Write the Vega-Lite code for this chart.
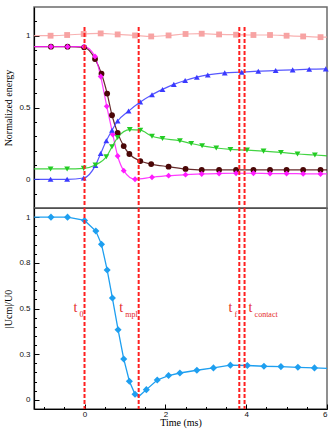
{
  "$schema": "https://vega.github.io/schema/vega-lite/v6.json",
  "autosize": "pad",
  "padding": {"left": 2, "top": 6, "right": 5, "bottom": 2},
  "spacing": 0,
  "bounds": "flush",
  "config": {
    "view": {"stroke": "#6b6b6b", "strokeWidth": 1.5},
    "axis": {
      "domainColor": "#000", "domainWidth": 1.2, "tickColor": "#000", "grid": false,
      "labelFont": "Liberation Sans", "labelFontSize": 8, "labelColor": "#111",
      "titleFont": "Liberation Serif", "titleFontSize": 10, "titleFontWeight": "normal", "titleColor": "#000",
      "tickSize": -5, "labelPadding": 9
    }
  },
  "datasets": {
    "energy": [
      {"s": "Total", "t": -1.25, "v": 1.0, "m": 0},
      {"s": "Total", "t": -0.84, "v": 1.0, "m": 1},
      {"s": "Total", "t": -0.43, "v": 1.005, "m": 1},
      {"s": "Total", "t": -0.02, "v": 1.012, "m": 1},
      {"s": "Total", "t": 0.40, "v": 1.016, "m": 1},
      {"s": "Total", "t": 0.82, "v": 1.009, "m": 1},
      {"s": "Total", "t": 1.25, "v": 1.002, "m": 1},
      {"s": "Total", "t": 1.65, "v": 0.995, "m": 1},
      {"s": "Total", "t": 2.08, "v": 1.002, "m": 1},
      {"s": "Total", "t": 2.50, "v": 1.012, "m": 1},
      {"s": "Total", "t": 2.90, "v": 1.014, "m": 1},
      {"s": "Total", "t": 3.33, "v": 1.009, "m": 1},
      {"s": "Total", "t": 3.75, "v": 1.007, "m": 1},
      {"s": "Total", "t": 4.18, "v": 1.005, "m": 1},
      {"s": "Total", "t": 4.59, "v": 1.005, "m": 1},
      {"s": "Total", "t": 5.00, "v": 1.0, "m": 1},
      {"s": "Total", "t": 5.41, "v": 0.995, "m": 1},
      {"s": "Total", "t": 5.84, "v": 0.99, "m": 1},
      {"s": "Total", "t": 6.0, "v": 0.99, "m": 0},

      {"s": "Kinetic", "t": -1.25, "v": 0.924, "m": 0},
      {"s": "Kinetic", "t": -0.83, "v": 0.924, "m": 1},
      {"s": "Kinetic", "t": -0.42, "v": 0.924, "m": 1},
      {"s": "Kinetic", "t": -0.01, "v": 0.919, "m": 1},
      {"s": "Kinetic", "t": 0.26, "v": 0.838, "m": 1},
      {"s": "Kinetic", "t": 0.42, "v": 0.735, "m": 1},
      {"s": "Kinetic", "t": 0.56, "v": 0.597, "m": 1},
      {"s": "Kinetic", "t": 0.68, "v": 0.446, "m": 1},
      {"s": "Kinetic", "t": 0.82, "v": 0.323, "m": 1},
      {"s": "Kinetic", "t": 0.97, "v": 0.231, "m": 1},
      {"s": "Kinetic", "t": 1.11, "v": 0.176, "m": 1},
      {"s": "Kinetic", "t": 1.38, "v": 0.127, "m": 1},
      {"s": "Kinetic", "t": 1.65, "v": 0.106, "m": 1},
      {"s": "Kinetic", "t": 2.08, "v": 0.088, "m": 1},
      {"s": "Kinetic", "t": 2.50, "v": 0.072, "m": 1},
      {"s": "Kinetic", "t": 2.90, "v": 0.065, "m": 1},
      {"s": "Kinetic", "t": 3.33, "v": 0.065, "m": 1},
      {"s": "Kinetic", "t": 3.75, "v": 0.065, "m": 1},
      {"s": "Kinetic", "t": 4.18, "v": 0.065, "m": 1},
      {"s": "Kinetic", "t": 4.59, "v": 0.065, "m": 1},
      {"s": "Kinetic", "t": 5.00, "v": 0.065, "m": 1},
      {"s": "Kinetic", "t": 5.41, "v": 0.065, "m": 1},
      {"s": "Kinetic", "t": 5.84, "v": 0.065, "m": 1},
      {"s": "Kinetic", "t": 6.0, "v": 0.065, "m": 0},

      {"s": "Kinetic (cm)", "t": -1.25, "v": 0.924, "m": 0},
      {"s": "Kinetic (cm)", "t": -0.83, "v": 0.924, "m": 1},
      {"s": "Kinetic (cm)", "t": -0.42, "v": 0.924, "m": 1},
      {"s": "Kinetic (cm)", "t": -0.01, "v": 0.924, "m": 1},
      {"s": "Kinetic (cm)", "t": 0.26, "v": 0.855, "m": 1},
      {"s": "Kinetic (cm)", "t": 0.40, "v": 0.716, "m": 1},
      {"s": "Kinetic (cm)", "t": 0.55, "v": 0.508, "m": 1},
      {"s": "Kinetic (cm)", "t": 0.70, "v": 0.312, "m": 1},
      {"s": "Kinetic (cm)", "t": 0.82, "v": 0.162, "m": 1},
      {"s": "Kinetic (cm)", "t": 0.97, "v": 0.060, "m": 1},
      {"s": "Kinetic (cm)", "t": 1.25, "v": 0.0, "m": 1},
      {"s": "Kinetic (cm)", "t": 1.67, "v": 0.014, "m": 1},
      {"s": "Kinetic (cm)", "t": 2.08, "v": 0.025, "m": 1},
      {"s": "Kinetic (cm)", "t": 2.50, "v": 0.032, "m": 1},
      {"s": "Kinetic (cm)", "t": 2.90, "v": 0.037, "m": 1},
      {"s": "Kinetic (cm)", "t": 3.33, "v": 0.040, "m": 1},
      {"s": "Kinetic (cm)", "t": 3.75, "v": 0.042, "m": 1},
      {"s": "Kinetic (cm)", "t": 4.18, "v": 0.042, "m": 1},
      {"s": "Kinetic (cm)", "t": 4.59, "v": 0.040, "m": 1},
      {"s": "Kinetic (cm)", "t": 5.00, "v": 0.040, "m": 1},
      {"s": "Kinetic (cm)", "t": 5.41, "v": 0.038, "m": 1},
      {"s": "Kinetic (cm)", "t": 5.84, "v": 0.037, "m": 1},
      {"s": "Kinetic (cm)", "t": 6.0, "v": 0.037, "m": 0},

      {"s": "Dissipation", "t": -1.25, "v": 0.0, "m": 0},
      {"s": "Dissipation", "t": -0.84, "v": 0.0, "m": 1},
      {"s": "Dissipation", "t": -0.43, "v": 0.0, "m": 1},
      {"s": "Dissipation", "t": -0.02, "v": 0.009, "m": 1},
      {"s": "Dissipation", "t": 0.27, "v": 0.097, "m": 1},
      {"s": "Dissipation", "t": 0.40, "v": 0.18, "m": 1},
      {"s": "Dissipation", "t": 0.54, "v": 0.268, "m": 1},
      {"s": "Dissipation", "t": 0.68, "v": 0.342, "m": 1},
      {"s": "Dissipation", "t": 0.82, "v": 0.406, "m": 1},
      {"s": "Dissipation", "t": 1.09, "v": 0.475, "m": 1},
      {"s": "Dissipation", "t": 1.38, "v": 0.538, "m": 1},
      {"s": "Dissipation", "t": 1.67, "v": 0.589, "m": 1},
      {"s": "Dissipation", "t": 1.93, "v": 0.626, "m": 1},
      {"s": "Dissipation", "t": 2.21, "v": 0.661, "m": 1},
      {"s": "Dissipation", "t": 2.49, "v": 0.688, "m": 1},
      {"s": "Dissipation", "t": 2.78, "v": 0.711, "m": 1},
      {"s": "Dissipation", "t": 3.05, "v": 0.727, "m": 1},
      {"s": "Dissipation", "t": 3.47, "v": 0.741, "m": 1},
      {"s": "Dissipation", "t": 3.89, "v": 0.746, "m": 1},
      {"s": "Dissipation", "t": 4.30, "v": 0.753, "m": 1},
      {"s": "Dissipation", "t": 4.73, "v": 0.758, "m": 1},
      {"s": "Dissipation", "t": 5.15, "v": 0.762, "m": 1},
      {"s": "Dissipation", "t": 5.56, "v": 0.767, "m": 1},
      {"s": "Dissipation", "t": 5.97, "v": 0.769, "m": 1},

      {"s": "Surface", "t": -1.25, "v": 0.072, "m": 0},
      {"s": "Surface", "t": -0.84, "v": 0.072, "m": 1},
      {"s": "Surface", "t": -0.43, "v": 0.072, "m": 1},
      {"s": "Surface", "t": -0.02, "v": 0.076, "m": 1},
      {"s": "Surface", "t": 0.27, "v": 0.099, "m": 1},
      {"s": "Surface", "t": 0.54, "v": 0.157, "m": 1},
      {"s": "Surface", "t": 0.68, "v": 0.226, "m": 1},
      {"s": "Surface", "t": 0.82, "v": 0.291, "m": 1},
      {"s": "Surface", "t": 1.12, "v": 0.346, "m": 1},
      {"s": "Surface", "t": 1.38, "v": 0.342, "m": 1},
      {"s": "Surface", "t": 1.67, "v": 0.30, "m": 1},
      {"s": "Surface", "t": 1.93, "v": 0.284, "m": 1},
      {"s": "Surface", "t": 2.36, "v": 0.268, "m": 1},
      {"s": "Surface", "t": 2.64, "v": 0.249, "m": 1},
      {"s": "Surface", "t": 2.91, "v": 0.233, "m": 1},
      {"s": "Surface", "t": 3.26, "v": 0.218, "m": 1},
      {"s": "Surface", "t": 3.61, "v": 0.208, "m": 1},
      {"s": "Surface", "t": 4.02, "v": 0.203, "m": 1},
      {"s": "Surface", "t": 4.43, "v": 0.196, "m": 1},
      {"s": "Surface", "t": 4.86, "v": 0.187, "m": 1},
      {"s": "Surface", "t": 5.27, "v": 0.176, "m": 1},
      {"s": "Surface", "t": 5.70, "v": 0.169, "m": 1},
      {"s": "Surface", "t": 6.0, "v": 0.163, "m": 0}
    ],
    "cm": [
      {"t": -1.25, "v": 1.0, "m": 0},
      {"t": -0.83, "v": 1.0, "m": 1},
      {"t": -0.42, "v": 1.0, "m": 1},
      {"t": 0.0, "v": 0.982, "m": 1},
      {"t": 0.28, "v": 0.924, "m": 1},
      {"t": 0.42, "v": 0.851, "m": 1},
      {"t": 0.56, "v": 0.711, "m": 1},
      {"t": 0.69, "v": 0.557, "m": 1},
      {"t": 0.83, "v": 0.384, "m": 1},
      {"t": 0.97, "v": 0.224, "m": 1},
      {"t": 1.11, "v": 0.102, "m": 1},
      {"t": 1.25, "v": 0.031, "m": 1},
      {"t": 1.34, "v": 0.018, "m": 0},
      {"t": 1.53, "v": 0.056, "m": 1},
      {"t": 1.80, "v": 0.109, "m": 1},
      {"t": 2.08, "v": 0.133, "m": 1},
      {"t": 2.36, "v": 0.147, "m": 1},
      {"t": 2.78, "v": 0.162, "m": 1},
      {"t": 3.19, "v": 0.175, "m": 1},
      {"t": 3.61, "v": 0.190, "m": 1},
      {"t": 4.03, "v": 0.188, "m": 1},
      {"t": 4.44, "v": 0.184, "m": 1},
      {"t": 4.86, "v": 0.182, "m": 1},
      {"t": 5.28, "v": 0.178, "m": 1},
      {"t": 5.69, "v": 0.175, "m": 1},
      {"t": 6.0, "v": 0.172, "m": 0}
    ],
    "events": [
      {"x": 0.0, "name": "t0"},
      {"x": 1.34, "name": "tmpl"},
      {"x": 3.83, "name": "tf"},
      {"x": 3.96, "name": "tcontact"}
    ],
    "labels": [
      {"x": -0.27, "y": 0.48, "main": "t", "sub": "0"},
      {"x": 0.86, "y": 0.48, "main": "t", "sub": "mpl"},
      {"x": 3.56, "y": 0.48, "main": "t", "sub": "f"},
      {"x": 4.06, "y": 0.48, "main": "t", "sub": "contact"}
    ]
  },
  "vconcat": [
    {
      "width": 293,
      "height": 201,
      "data": {"name": "energy"},
      "resolve": {"axis": {"y": "independent"}},
      "layer": [
        {
          "mark": {"type": "line", "interpolate": "monotone", "strokeWidth": 1.2, "opacity": 0.85},
          "encoding": {
            "x": {"field": "t", "type": "quantitative", "title": null,
                  "scale": {"domain": [-1.25, 6], "nice": false, "zero": false},
                  "axis": {"labels": false, "ticks": false, "domain": true, "minExtent": 0, "maxExtent": 0}},
            "y": {"field": "v", "type": "quantitative",
                  "scale": {"domain": [-0.2, 1.2], "nice": false, "zero": false},
                  "axis": {"values": [0, 0.5, 1], "format": "~g", "title": "Normalized energy",
                           "titleX": -26, "titleY": 100.5, "titleAngle": -90, "titleAlign": "center", "titleBaseline": "middle", "orient": "left"}},
            "color": {"field": "s", "type": "nominal", "legend": null,
                      "scale": {"domain": ["Total", "Kinetic", "Kinetic (cm)", "Dissipation", "Surface"],
                                "range": ["#f7a3a3", "#4a0606", "#ff1aff", "#3a3aff", "#22cc22"]}}
          }
        },
        {
          "transform": [{"filter": "datum.m == 1"}],
          "mark": {"type": "point", "filled": true, "opacity": 1, "size": 34},
          "encoding": {
            "x": {"field": "t", "type": "quantitative", "title": null},
            "y": {"field": "v", "type": "quantitative",
                  "axis": {"values": [-0.1, 0.1, 0.2, 0.3, 0.4, 0.6, 0.7, 0.8, 0.9, 1.1], "labels": false, "tickSize": -2.5, "domain": false, "title": null, "orient": "left"}},
            "color": {"field": "s", "type": "nominal", "legend": null},
            "shape": {"field": "s", "type": "nominal", "legend": null,
                      "scale": {"domain": ["Total", "Kinetic", "Kinetic (cm)", "Dissipation", "Surface"],
                                "range": ["square", "circle", "diamond", "triangle-up", "triangle-down"]}}
          }
        },
        {
          "data": {"name": "events"},
          "mark": {"type": "rule", "color": "#ff2020", "strokeWidth": 2, "strokeDash": [4, 2]},
          "encoding": {
            "x": {"field": "x", "type": "quantitative", "title": null},
            "y": {"datum": 1.06, "axis": null},
            "y2": {"datum": -0.2}
          }
        }
      ]
    },
    {
      "width": 293,
      "height": 201,
      "data": {"name": "cm"},
      "resolve": {"axis": {"x": "independent", "y": "independent"}},
      "layer": [
        {
          "mark": {"type": "line", "strokeWidth": 1.3, "color": "#1e9ff0"},
          "encoding": {
            "x": {"field": "t", "type": "quantitative",
                  "scale": {"domain": [-1.25, 6], "nice": false, "zero": false},
                  "axis": {"values": [0, 2, 4, 6], "format": "~g", "title": "Time (ms)", "orient": "bottom",
                           "labelPadding": 6, "titleY": 16.5, "titleBaseline": "alphabetic"}},
            "y": {"field": "v", "type": "quantitative",
                  "scale": {"domain": [-0.05, 1.05], "nice": false, "zero": false},
                  "axis": {"values": [0, 0.25, 0.5, 0.75, 1], "format": "~g", "title": "|Ucm|/U0",
                           "titleX": -26, "titleY": 100.5, "titleAngle": -90, "titleAlign": "center", "titleBaseline": "middle", "orient": "left"}}
          }
        },
        {
          "transform": [{"filter": "datum.m == 1"}],
          "mark": {"type": "point", "shape": "diamond", "filled": true, "opacity": 1, "size": 50, "color": "#1e9ff0"},
          "encoding": {
            "x": {"field": "t", "type": "quantitative",
                  "axis": {"values": [-1, -0.5, 0.5, 1, 1.5, 2.5, 3, 3.5, 4.5, 5, 5.5], "labels": false, "tickSize": -2.5, "domain": false, "title": null, "orient": "bottom"}},
            "y": {"field": "v", "type": "quantitative",
                  "axis": {"values": [0.05, 0.1, 0.15, 0.2, 0.3, 0.35, 0.4, 0.45, 0.55, 0.6, 0.65, 0.7, 0.8, 0.85, 0.9, 0.95], "labels": false, "tickSize": -2.5, "domain": false, "title": null, "orient": "left"}}
          }
        },
        {
          "data": {"name": "events"},
          "mark": {"type": "rule", "color": "#ff2020", "strokeWidth": 2, "strokeDash": [4, 2]},
          "encoding": {
            "x": {"field": "x", "type": "quantitative", "axis": null}
          }
        },
        {
          "data": {"name": "labels"},
          "mark": {"type": "text", "font": "Liberation Serif", "fontSize": 14, "fill": "#e52b2b", "align": "left", "baseline": "alphabetic"},
          "encoding": {
            "x": {"field": "x", "type": "quantitative", "axis": null},
            "y": {"field": "y", "type": "quantitative", "axis": null},
            "text": {"field": "main"}
          }
        },
        {
          "data": {"name": "labels"},
          "mark": {"type": "text", "font": "Liberation Serif", "fontSize": 8, "fill": "#e52b2b", "align": "left", "baseline": "alphabetic", "dx": 6, "dy": 5},
          "encoding": {
            "x": {"field": "x", "type": "quantitative", "axis": null},
            "y": {"field": "y", "type": "quantitative", "axis": null},
            "text": {"field": "sub"}
          }
        }
      ]
    }
  ]
}
